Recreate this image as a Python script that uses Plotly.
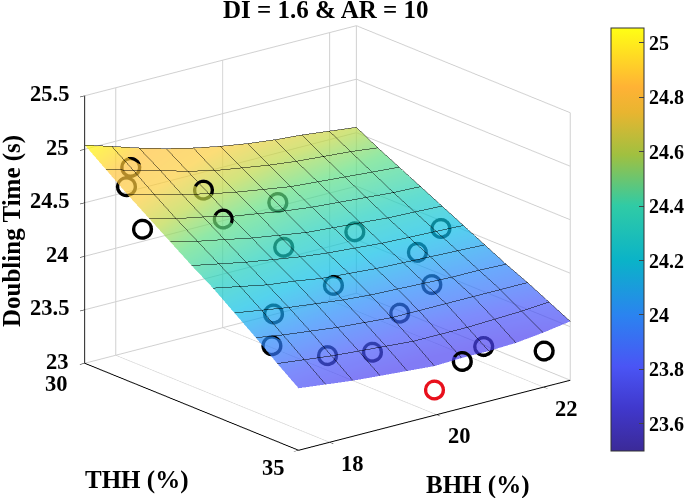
import plotly.graph_objects as go

# surface: rows THH 30 -> 35, columns BHH 17.42 -> 22.5
bhh_grid = [17.42, 17.93, 18.44, 18.94, 19.45, 19.96, 20.47, 20.98, 21.48, 21.99, 22.5]
thh_grid = [30, 30.5, 31, 31.5, 32, 32.5, 33, 33.5, 34, 34.5, 35]
doubling_time = [
    [25.04, 24.96, 24.88, 24.81, 24.75, 24.70, 24.66, 24.63, 24.61, 24.58, 24.55],
    [24.89, 24.82, 24.75, 24.68, 24.62, 24.58, 24.54, 24.51, 24.49, 24.47, 24.44],
    [24.74, 24.67, 24.61, 24.55, 24.50, 24.46, 24.42, 24.40, 24.38, 24.36, 24.34],
    [24.60, 24.53, 24.48, 24.42, 24.38, 24.34, 24.31, 24.29, 24.27, 24.25, 24.24],
    [24.46, 24.40, 24.35, 24.30, 24.26, 24.22, 24.20, 24.18, 24.16, 24.15, 24.14],
    [24.32, 24.27, 24.22, 24.18, 24.14, 24.11, 24.09, 24.07, 24.06, 24.05, 24.04],
    [24.19, 24.14, 24.09, 24.06, 24.02, 24.00, 23.98, 23.97, 23.96, 23.95, 23.94],
    [24.04, 24.00, 23.96, 23.93, 23.90, 23.88, 23.87, 23.86, 23.85, 23.85, 23.84],
    [23.89, 23.85, 23.82, 23.79, 23.77, 23.75, 23.75, 23.75, 23.75, 23.75, 23.75],
    [23.73, 23.70, 23.67, 23.65, 23.63, 23.61, 23.61, 23.61, 23.62, 23.63, 23.65],
    [23.58, 23.55, 23.52, 23.50, 23.48, 23.46, 23.47, 23.47, 23.48, 23.51, 23.55],
]

# measured runs (open circles), last one is the red run
run_bhh = [18.07, 17.99, 18.09, 18.91, 18.76, 20.18, 19.53, 20.90, 22.31, 21.55, 19.66,
           21.26, 18.26, 20.30, 17.71, 18.55, 19.31, 21.15, 20.47, 22.00, 19.95]
run_thh = [30.25, 30.25, 30.50, 30.90, 31.55, 31.05, 32.00, 31.95, 32.20, 32.60, 33.00,
           33.30, 33.35, 33.75, 34.00, 34.25, 34.35, 34.65, 35.00, 35.00, 35.00]
run_time = [24.79, 24.62, 24.25, 24.575, 24.43, 24.32, 24.14, 24.10, 23.99, 23.93, 23.93,
            23.78, 23.90, 23.71, 23.78, 23.62, 23.57, 23.435, 23.44, 23.34, 23.24]
run_colors = ["black"] * 20 + ["#e8101c"]

bhh_ticks = [18, 20, 22]
thh_ticks = [30, 35]
z_ticks = [23, 23.5, 24, 24.5, 25, 25.5]
bar_ticks = [23.6, 23.8, 24, 24.2, 24.4, 24.6, 24.8, 25]

bar_colorscale = [
    [0.0, "#3b2a98"], [0.1, "#4038cc"], [0.2, "#4a55f5"], [0.32, "#2b83f0"],
    [0.45, "#0ab3c8"], [0.58, "#30cba5"], [0.7, "#a0c040"], [0.8, "#e8b530"],
    [0.86, "#ffb235"], [1.0, "#ffff14"],
]
# the lit surface reads brighter than the bar, so it gets its own stops
surface_colorscale = [
    [0.0, "rgb(75,65,240)"], [0.1, "rgb(70,90,250)"], [0.225, "rgb(40,135,250)"],
    [0.35, "rgb(10,190,230)"], [0.45, "rgb(30,205,190)"], [0.58, "rgb(95,222,130)"],
    [0.675, "rgb(190,215,70)"], [0.77, "rgb(250,205,60)"], [0.87, "rgb(255,195,60)"],
    [0.965, "rgb(255,238,10)"], [1.0, "rgb(255,255,10)"],
]

FONT = "Liberation Serif"
BHH_RANGE = [17.42, 22.5]
COLOR_MIN = 23.5
COLOR_MAX = 25.055
TICK_FONT = dict(family=FONT, size=22.5, color="black")


def axis(axis_range, tickvals):
    return dict(
        range=axis_range,
        tickvals=tickvals,
        showticklabels=False,
        title=dict(text=""),
        showbackground=False,
        gridcolor="#d0d0d0",
        gridwidth=2,
        showline=True,
        linecolor="black",
        linewidth=2,
        ticks="outside",
        ticklen=6,
        tickcolor="black",
        zeroline=False,
        showspikes=False,
    )


# native gl tick text cannot be right aligned, so labels sit on the axes as scene annotations
scene_labels = []
for v in z_ticks:
    scene_labels.append(dict(x=BHH_RANGE[0], y=thh_ticks[0], z=v, text=f"<b>{v:g}</b>", xanchor="right",
                             xshift=-14, yshift=2, showarrow=False, font=TICK_FONT))
for v, xs, ys in zip(thh_ticks, [-28, -25], [-20, -17]):
    scene_labels.append(dict(x=BHH_RANGE[0], y=v, z=z_ticks[0], text=f"<b>{v}</b>", xshift=xs, yshift=ys,
                             showarrow=False, font=TICK_FONT))
for v in bhh_ticks:
    scene_labels.append(dict(x=v, y=thh_ticks[1], z=z_ticks[0], text=f"<b>{v}</b>", xshift=23, yshift=-21,
                             showarrow=False, font=TICK_FONT))

fig = go.Figure()
fig.add_trace(
    go.Surface(
        x=bhh_grid,
        y=thh_grid,
        z=doubling_time,
        colorscale=surface_colorscale,
        cmin=COLOR_MIN,
        cmax=COLOR_MAX,
        opacity=0.7,
        showscale=False,
        lighting=dict(ambient=1, diffuse=0, specular=0, roughness=1, fresnel=0),
        contours=dict(
            x=dict(show=True, start=17.42, end=22.5, size=0.508, color="#000000", width=2),
            y=dict(show=True, start=30, end=35, size=0.5, color="#000000", width=2),
        ),
        hoverinfo="skip",
    )
)
# the open-circle sprite is thin, so nest a few sizes to get the heavy ring
for ring_size in [12, 11.4, 10.8, 10.2]:
    fig.add_trace(
        go.Scatter3d(
            x=run_bhh,
            y=run_thh,
            z=run_time,
            mode="markers",
            marker=dict(symbol="circle-open", size=ring_size, color=run_colors),
            hoverinfo="skip",
        )
    )
# invisible trace that only carries the colour bar
fig.add_trace(
    go.Scatter3d(
        x=run_bhh,
        y=run_thh,
        z=run_time,
        mode="markers",
        hoverinfo="skip",
        marker=dict(
            size=1,
            opacity=0,
            color=run_time,
            colorscale=bar_colorscale,
            cmin=COLOR_MIN,
            cmax=COLOR_MAX,
            showscale=True,
            colorbar=dict(
                thickness=33,
                lenmode="pixels",
                len=423,
                x=611 / 685,
                xanchor="left",
                y=1 - 239.5 / 498,
                yanchor="middle",
                xpad=0,
                ypad=0,
                tickvals=bar_ticks,
                ticktext=[f"<b>{v:g}</b>" for v in bar_ticks],
                tickfont=dict(family=FONT, size=20, color="black"),
                ticks="inside",
                ticklen=5,
                outlinecolor="#333333",
                outlinewidth=1,
            ),
        ),
    )
)

fig.update_layout(
    width=685,
    height=498,
    margin=dict(l=0, r=0, t=0, b=0, autoexpand=False),
    paper_bgcolor="white",
    showlegend=False,
    font=dict(family=FONT, color="black"),
    scene=dict(
        domain=dict(x=[0, 0.956], y=[0.044, 1.0]),
        xaxis=axis(BHH_RANGE, bhh_ticks),
        yaxis=axis([35, 30], thh_ticks),
        zaxis=axis([23, 25.5], z_ticks),
        aspectmode="manual",
        aspectratio=dict(x=1.459, y=1.443, z=1.188),
        camera=dict(
            projection=dict(type="orthographic"),
            eye=dict(x=-1.178, y=-1.48, z=0.648),
            up=dict(x=0, y=0, z=1),
            center=dict(x=0, y=0, z=0),
        ),
        annotations=scene_labels,
    ),
    annotations=[
        dict(text="<b>DI = 1.6 & AR = 10</b>", x=326 / 685, y=1 - 9 / 498, xref="paper", yref="paper",
             xanchor="center", yanchor="middle", showarrow=False, font=dict(size=25)),
        dict(text="<b>Doubling Time (s)</b>", x=12 / 685, y=1 - 231 / 498, xref="paper", yref="paper",
             xanchor="center", yanchor="middle", showarrow=False, textangle=-90, font=dict(size=25)),
        dict(text="<b>THH (%)</b>", x=136 / 685, y=1 - 480 / 498, xref="paper", yref="paper",
             xanchor="center", yanchor="middle", showarrow=False, font=dict(size=25)),
        dict(text="<b>BHH (%)</b>", x=478 / 685, y=1 - 485 / 498, xref="paper", yref="paper",
             xanchor="center", yanchor="middle", showarrow=False, font=dict(size=25)),
    ],
)

# the page's default body margin would push the 685x498 figure off the window
fig.write_html(
    "out.html",
    config={"displayModeBar": False},
    post_script="document.body.style.margin = '0';",
)
